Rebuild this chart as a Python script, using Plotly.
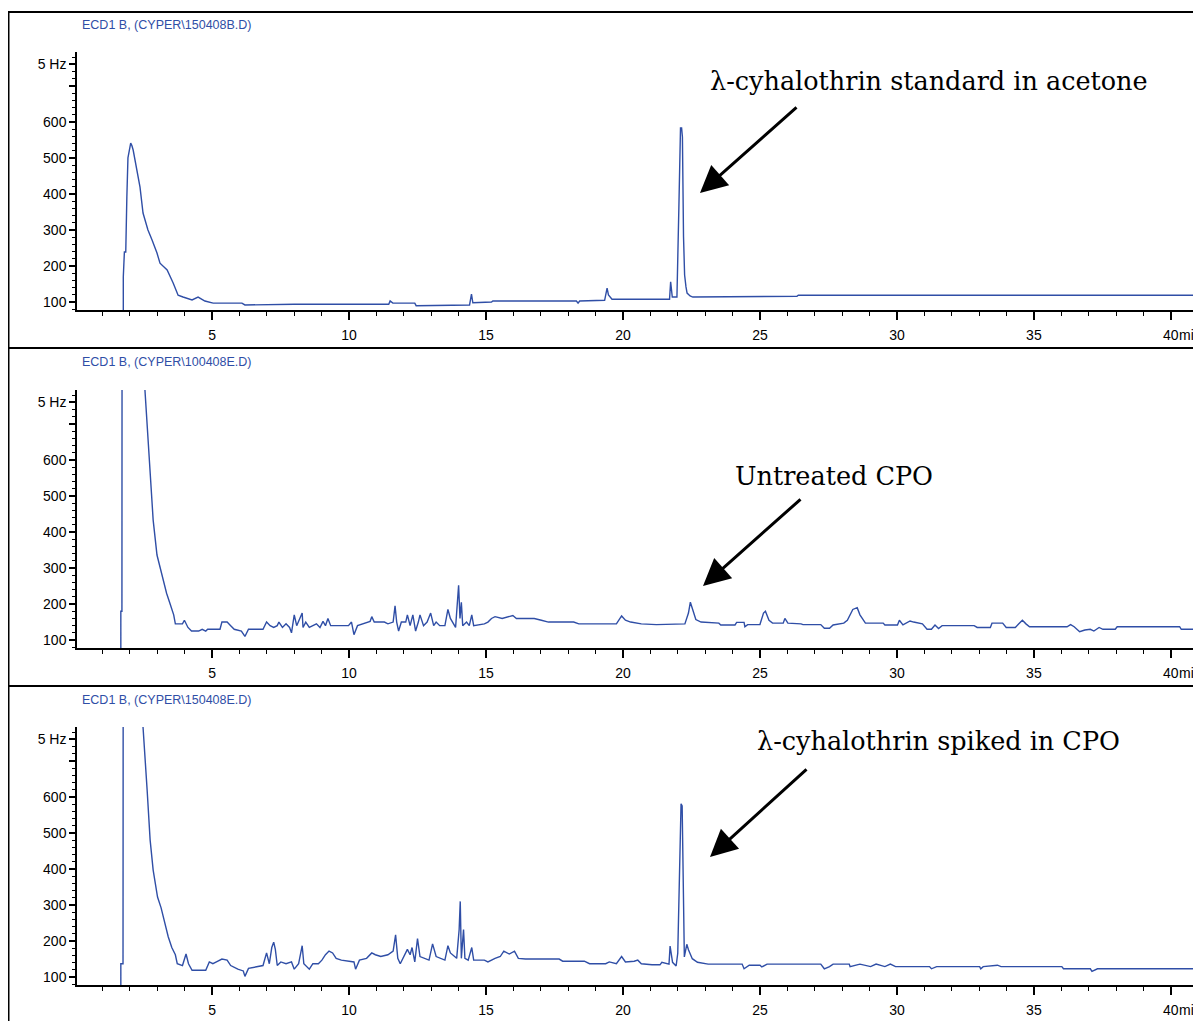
import plotly.graph_objects as go

# ---------------- data (retention time in min, signal in Hz) ----------------
std_t = [1.76, 1.76, 1.80, 1.85, 1.89, 1.93, 2.03, 2.07, 2.12, 2.26, 2.37, 2.48, 2.66, 2.81, 2.99, 3.10,
         3.36, 3.58, 3.76, 3.94, 4.27, 4.49, 4.74, 5.04, 6.09, 6.20, 8.0, 10.0, 11.45, 11.5, 11.6, 12.4,
         12.45, 14.4, 14.47, 14.52, 14.6, 15.2, 15.25, 18.3, 18.36, 18.42, 19.33, 19.42, 19.47, 19.6,
         21.70, 21.74, 21.80, 21.97, 22.04, 22.10, 22.14, 22.17, 22.21, 22.25, 22.30, 22.34, 22.45,
         22.55, 26.35, 26.40, 41.1]
std_v = [78, 170, 239, 239, 392, 500, 541, 535, 522, 458, 419, 347, 300, 272, 236, 208,
         189, 153, 119, 114, 106, 114, 103, 97, 97, 92, 94, 94, 94, 103, 97, 97,
         90, 92, 122, 98, 98, 100, 103, 103, 97, 103, 105, 139, 120, 108,
         108, 156, 114, 114, 361, 583, 583, 558, 281, 175, 142, 125, 117,
         114, 116, 119, 119]

cpo_t = [1.67, 1.67, 1.71, 1.72, 2.2, 2.50, 2.55, 2.74, 2.85, 2.99, 3.21, 3.34, 3.47, 3.60, 3.66, 3.92,
         3.99, 4.12, 4.25, 4.51, 4.64, 4.77, 4.84, 5.29, 5.36, 5.55, 5.68, 5.81, 6.07, 6.20, 6.33, 6.86,
         6.99, 7.12, 7.25, 7.38, 7.44, 7.57, 7.70, 7.83, 7.90, 8.00, 8.09, 8.19, 8.29, 8.32, 8.42, 8.55,
         8.68, 8.81, 8.94, 9.05, 9.14, 9.23, 9.33, 9.98, 10.09, 10.18, 10.31, 10.51, 10.77, 10.83, 10.92,
         11.29, 11.42, 11.61, 11.68, 11.74, 11.81, 11.91, 12.07, 12.13, 12.23, 12.33, 12.43, 12.53, 12.59,
         12.72, 12.85, 12.98, 13.09, 13.18, 13.31, 13.50, 13.61, 13.70, 13.83, 13.89, 14.00, 14.05, 14.10,
         14.15, 14.29, 14.39, 14.48, 14.55, 14.94, 15.07, 15.20, 15.33, 15.59, 15.98, 16.11, 16.76, 17.02,
         17.28, 18.20, 18.39, 19.76, 19.95, 20.09, 20.28, 20.67, 21.13, 21.22, 22.26, 22.39, 22.46, 22.53,
         22.66, 22.85, 23.50, 23.57, 24.09, 24.15, 24.42, 24.45, 24.55, 25.00, 25.13, 25.20, 25.33, 25.46,
         25.85, 25.91, 26.02, 26.50, 26.57, 27.22, 27.35, 27.54, 27.67, 28.06, 28.19, 28.39, 28.55, 28.65,
         28.85, 29.50, 29.56, 30.02, 30.09, 30.22, 30.48, 30.61, 30.93, 31.10, 31.26, 31.39, 31.52, 31.65,
         32.82, 32.93, 33.41, 33.47, 33.86, 33.99, 34.32, 34.45, 34.58, 34.71, 34.84, 36.21, 36.34, 36.47,
         36.67, 36.86, 37.06, 37.19, 37.38, 37.52, 37.97, 38.04, 40.32, 40.38, 41.1]
cpo_v = [78, 180, 180, 1800, 1500, 1000, 794, 572, 433, 336, 270, 230, 200, 170, 145, 145,
         155, 135, 125, 125, 130, 125, 130, 130, 150, 150, 140, 130, 125, 110, 130, 130,
         150, 140, 135, 140, 150, 135, 145, 135, 120, 170, 140, 160, 175, 135, 150, 135,
         140, 145, 135, 152, 140, 160, 140, 140, 150, 115, 140, 145, 152, 165, 150,
         150, 145, 150, 195, 150, 125, 150, 150, 170, 140, 170, 125, 150, 170,
         140, 150, 175, 140, 150, 140, 140, 185, 160, 145, 135, 252, 160, 205,
         140, 150, 140, 170, 140, 145, 150, 160, 165, 160, 168, 160, 160, 155,
         150, 150, 145, 145, 167, 155, 150, 145, 142, 143, 145, 175, 205, 190,
         157, 150, 147, 142, 142, 149, 149, 137, 143, 143, 175, 180, 155, 147,
         147, 160, 147, 145, 143, 143, 133, 133, 142, 147, 155, 185, 190, 170,
         147, 147, 142, 142, 155, 142, 153, 150, 145, 130, 130, 142, 132, 140,
         140, 135, 135, 147, 147, 135, 135, 145, 155, 145, 137, 137, 143, 137,
         123, 128, 130, 125, 135, 130, 130, 137, 137, 130, 130]

spk_t = [1.67, 1.67, 1.75, 1.76, 2.2, 2.40, 2.48, 2.63, 2.74, 2.85, 3.01, 3.14, 3.27, 3.40, 3.53, 3.66,
         3.73, 3.92, 4.05, 4.14, 4.27, 4.77, 4.90, 5.03, 5.16, 5.36, 5.55, 5.68, 5.94, 6.14, 6.20, 6.33,
         6.86, 6.99, 7.09, 7.18, 7.25, 7.31, 7.38, 7.51, 7.70, 7.90, 8.00, 8.16, 8.29, 8.35, 8.55, 8.68,
         8.88, 9.01, 9.14, 9.27, 9.40, 9.53, 9.72, 10.18, 10.24, 10.38, 10.64, 10.83, 10.96, 11.16, 11.42,
         11.61, 11.70, 11.78, 11.87, 12.00, 12.13, 12.23, 12.30, 12.40, 12.50, 12.59, 12.79, 12.92, 13.05,
         13.11, 13.18, 13.50, 13.61, 13.70, 13.83, 13.93, 14.02, 14.06, 14.10, 14.18, 14.23, 14.35, 14.48,
         14.55, 14.94, 15.07, 15.33, 15.52, 15.65, 15.85, 16.04, 16.18, 16.44, 17.67, 17.80, 18.59, 18.78,
         19.37, 19.50, 19.76, 19.95, 20.09, 20.41, 20.54, 20.67, 21.06, 21.35, 21.42, 21.68, 21.72, 21.81,
         21.94, 22.00, 22.04, 22.09, 22.12, 22.16, 22.19, 22.22, 22.24, 22.33, 22.39, 22.53, 22.72, 23.11,
         24.35, 24.42, 24.61, 25.00, 25.07, 25.26, 27.22, 27.35, 27.54, 27.67, 28.26, 28.29, 28.65, 29.04,
         29.24, 29.56, 29.76, 29.95, 31.19, 31.26, 31.45, 33.02, 33.06, 33.15, 33.67, 33.80, 36.02, 36.08,
         37.06, 37.12, 37.32, 41.1]
spk_v = [78, 137, 137, 1500, 1400, 1000, 794, 619, 480, 397, 322, 292, 252, 212, 182, 162,
         137, 132, 164, 137, 119, 119, 142, 137, 142, 150, 147, 132, 122, 117, 102, 124,
         132, 167, 137, 182, 197, 177, 132, 142, 137, 142, 122, 137, 187, 137, 122, 137,
         137, 147, 162, 172, 167, 152, 147, 142, 122, 147, 152, 167, 162, 157, 162,
         172, 217, 152, 137, 157, 177, 162, 182, 142, 207, 157, 152, 147, 192,
         172, 157, 147, 187, 167, 157, 152, 232, 310, 152, 232, 152, 147, 182,
         147, 147, 142, 152, 157, 172, 164, 172, 152, 150, 150, 144, 144, 137,
         137, 142, 137, 157, 142, 144, 147, 137, 134, 134, 141, 136, 186, 141,
         131, 166, 320, 560, 581, 575, 400, 201, 156, 191, 176, 151, 141, 136,
         136, 123, 133, 133, 128, 136, 136, 123, 129, 136, 136, 129, 136, 129,
         136, 129, 136, 129, 129, 123, 129, 129, 123, 129, 133, 129, 129, 123,
         123, 116, 123, 123]

x_ticks = [5, 10, 15, 20, 25, 30, 35, 40]
x_ticktext = ["5", "10", "15", "20", "25", "30", "35", "40"]
y_ticks = [100, 200, 300, 400, 500, 600, 700, 761]
y_ticktext = ["100", "200", "300", "400", "500", "600", "", "5 Hz"]

headers = ["ECD1 B, (CYPER\\150408B.D)", "ECD1 B, (CYPER\\100408E.D)", "ECD1 B, (CYPER\\150408E.D)"]
labels = ["λ-cyhalothrin standard in acetone", "Untreated CPO", "λ-cyhalothrin spiked in CPO"]

# ---------------- layout geometry (reference pixels; page body adds an 8px offset) ----------------
OFF = 8
W, H = 1201 - OFF, 1021 - OFF
def px(p):
    return (p - OFF) / W
def py(p):
    return 1 - (p - OFF) / H

panels = [(52, 310), (390, 648), (727, 985)]  # plot top / bottom in reference px
header_y = [25, 362, 700]
label_pos = [(708, 81), (733, 476), (755, 741)]
arrow_head = [(700, 193), (703, 586), (710, 857)]
arrow_vec = [(98, -87), (99, -88), (98, -89)]

NARROW = "Liberation Sans Narrow, Arial Narrow, Liberation Sans, Arial, sans-serif"
BLUE = "#2f4ea6"

fig = go.Figure()
series = [(std_t, std_v), (cpo_t, cpo_v), (spk_t, spk_v)]
for i, (t, v) in enumerate(series):
    sfx = "" if i == 0 else str(i + 1)
    fig.add_trace(go.Scatter(x=t, y=v, mode="lines", line=dict(color=BLUE, width=1.4),
                             xaxis="x" + sfx, yaxis="y" + sfx, hoverinfo="skip"))

layout = dict(width=W, height=H, margin=dict(l=0, r=0, t=0, b=0),
              paper_bgcolor="white", plot_bgcolor="white", showlegend=False)

annotations = []
shapes = []
for i, (top, bot) in enumerate(panels):
    sfx = "" if i == 0 else str(i + 1)
    layout["xaxis" + sfx] = dict(
        domain=[px(77), 1], range=[0.07, 41.1], anchor="y" + sfx,
        showgrid=False, zeroline=False, showline=True, linecolor="black", linewidth=2,
        ticks="outside", ticklen=8, tickwidth=1.5, tickcolor="black",
        tickvals=x_ticks, ticktext=x_ticktext, ticklabelstandoff=3,
        tickfont=dict(family=NARROW, size=14, color="black"),
        minor=dict(ticks="outside", ticklen=4, tickwidth=1, tickcolor="black", dtick=1, tick0=0,
                   showgrid=False),
        fixedrange=True)
    layout["yaxis" + sfx] = dict(
        domain=[py(bot), py(top)], range=[78, 794], anchor="x" + sfx,
        showgrid=False, zeroline=False, showline=True, linecolor="black", linewidth=1.5,
        ticks="outside", ticklen=6, tickwidth=1.5, tickcolor="black",
        tickvals=y_ticks, ticktext=y_ticktext, ticklabelstandoff=0,
        tickfont=dict(family=NARROW, size=14, color="black"),
        minor=dict(ticks="outside", ticklen=3, tickwidth=1, tickcolor="black", dtick=20, tick0=0,
                   showgrid=False),
        fixedrange=True)
    annotations.append(dict(text=headers[i], xref="paper", yref="paper", x=px(80), y=py(header_y[i]),
                            xanchor="left", yanchor="middle", showarrow=False,
                            font=dict(family=NARROW, size=12.5, color=BLUE)))
    annotations.append(dict(text="min", xref="x" + sfx, yref="y" + sfx + " domain", x=40.22, y=0,
                            yshift=-25, xanchor="left", yanchor="middle", showarrow=False,
                            font=dict(family=NARROW, size=14, color="black")))
    lx, ly = label_pos[i]
    annotations.append(dict(text=labels[i], xref="paper", yref="paper", x=px(lx), y=py(ly),
                            xanchor="left", yanchor="middle", showarrow=False,
                            font=dict(family="DejaVu Serif", size=25.5, color="black")))
    hx, hy = arrow_head[i]
    ax, ay = arrow_vec[i]
    annotations.append(dict(text="", xref="paper", yref="paper", x=px(hx), y=py(hy),
                            ax=ax, ay=ay, showarrow=True, arrowhead=2, arrowsize=1.8,
                            arrowwidth=3, arrowcolor="black", standoff=0))

line_k = dict(color="black", width=2)
shapes.append(dict(type="line", xref="paper", yref="paper", x0=px(8.5), x1=px(8.5), y0=0, y1=py(12),
                   line=line_k))
for yy in [12, 348, 686]:
    shapes.append(dict(type="line", xref="paper", yref="paper", x0=px(8), x1=1, y0=py(yy), y1=py(yy),
                       line=line_k))
shapes.append(dict(type="line", xref="paper", yref="paper", x0=px(1198.5), x1=px(1198.5), y0=0, y1=py(12),
                   line=dict(color="#9a9a9a", width=1)))

layout["annotations"] = annotations
layout["shapes"] = shapes
fig.update_layout(**layout)
fig.write_html("out.html")
